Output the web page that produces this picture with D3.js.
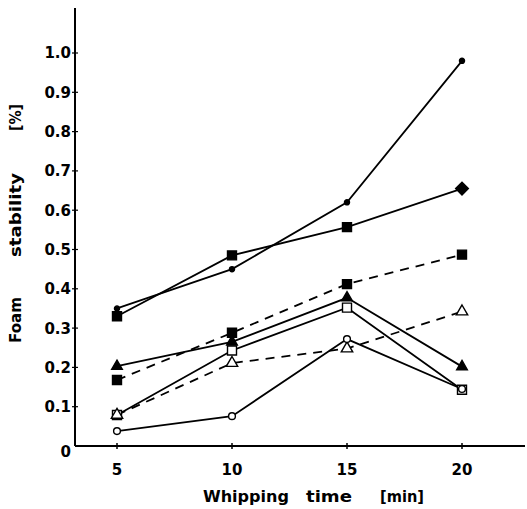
<!DOCTYPE html>
<html>
<head>
<meta charset="utf-8">
<script src="https://cdn.jsdelivr.net/npm/d3@7"></script>
<style>
  body { margin: 0; background: #fff; }
  text { font-family: "DejaVu Sans", "Liberation Sans", Arial, sans-serif; font-weight: bold; fill: #000; }
</style>
</head>
<body>
<svg id="chart" width="527" height="509"></svg>
<script>
// whipping time (min)
const times = [5, 10, 15, 20];

// foam stability series (%)
const filledCircle = [0.35, 0.45, 0.62, 0.98];
const filledSquare = [0.33, 0.485, 0.557, 0.655];
const filledSquareDash = [0.168, 0.288, 0.412, 0.487];
const filledTriangle = [0.203, 0.265, 0.377, 0.202];
const openSquare = [0.079, 0.243, 0.352, 0.143];
const openTriangleDash = [0.079, 0.211, 0.248, 0.342];
const openCircle = [0.038, 0.076, 0.272, 0.145];

const yTicks = [0.1, 0.2, 0.3, 0.4, 0.5, 0.6, 0.7, 0.8, 0.9, 1.0];

// title words, spread out as in the original figure
const xTitleWords = ['Whipping', 'time', '[min]'];
const yTitleWords = ['Foam', 'stability', '[%]'];

const series = [
    {values: filledCircle, shape: 'circle', filled: true, dash: null, size: 4.5},
    {values: filledSquare, shape: 'square', filled: true, dash: null, size: 9, last: 'diamond'},
    {values: filledSquareDash, shape: 'square', filled: true, dash: '9,7', size: 9},
    {values: filledTriangle, shape: 'triangle', filled: true, dash: null, size: 7},
    {values: openSquare, shape: 'square', filled: false, dash: null, size: 9},
    {values: openTriangleDash, shape: 'triangle', filled: false, dash: '9,7', size: 7.5},
    {values: openCircle, shape: 'circle', filled: false, dash: null, size: 6}
];

const svg = d3.select('#chart');

const x = d3.scaleLinear().domain([5, 20]).range([117, 462]);
const y = d3.scaleLinear().domain([0, 1.0]).range([446, 53]);

// axes lines
svg.append('line')
    .attr('x1', 75).attr('x2', 75)
    .attr('y1', 8).attr('y2', 446)
    .attr('stroke', '#000').attr('stroke-width', 2);
svg.append('line')
    .attr('x1', 75).attr('x2', 525)
    .attr('y1', 446).attr('y2', 446)
    .attr('stroke', '#000').attr('stroke-width', 2);

// y ticks
const yt = svg.append('g');
yt.selectAll('line')
    .data(yTicks)
    .enter().append('line')
    .attr('x1', 72).attr('x2', 78)
    .attr('y1', d => y(d)).attr('y2', d => y(d))
    .attr('stroke', '#000').attr('stroke-width', 1.2);
yt.selectAll('text')
    .data(yTicks)
    .enter().append('text')
    .attr('x', 71)
    .attr('y', d => y(d))
    .attr('dy', '0.36em')
    .attr('text-anchor', 'end')
    .attr('font-size', '15px')
    .text(d => d.toFixed(1));
svg.append('text')
    .attr('x', 71).attr('y', 452)
    .attr('dy', '0.36em')
    .attr('text-anchor', 'end')
    .attr('font-size', '15px')
    .text('0');

// x ticks
const xt = svg.append('g');
xt.selectAll('line')
    .data(times)
    .enter().append('line')
    .attr('x1', d => x(d)).attr('x2', d => x(d))
    .attr('y1', 443).attr('y2', 449)
    .attr('stroke', '#000').attr('stroke-width', 1.5);
xt.selectAll('text')
    .data(times)
    .enter().append('text')
    .attr('x', d => x(d))
    .attr('y', 475)
    .attr('text-anchor', 'middle')
    .attr('font-size', '15px')
    .text(d => d);

// axis titles
const xTitleX = [203, 306, 380];
const xTitleLen = [86, 46, 44];
svg.append('g').selectAll('text')
    .data(xTitleWords)
    .enter().append('text')
    .attr('x', (d, i) => xTitleX[i])
    .attr('y', 502)
    .attr('font-size', '15px')
    .attr('textLength', (d, i) => xTitleLen[i])
    .attr('lengthAdjust', 'spacingAndGlyphs')
    .text(d => d);

const yTitleY = [343, 257, 131];
const yTitleLen = [46, 84, 27];
svg.append('g').selectAll('text')
    .data(yTitleWords)
    .enter().append('text')
    .attr('transform', (d, i) => `translate(21, ${yTitleY[i]}) rotate(-90)`)
    .attr('font-size', '15px')
    .attr('textLength', (d, i) => yTitleLen[i])
    .attr('lengthAdjust', 'spacingAndGlyphs')
    .text(d => d);

// lines
const line = d3.line()
    .x((d, i) => x(times[i]))
    .y(d => y(d));

svg.append('g').selectAll('path')
    .data(series)
    .enter().append('path')
    .attr('d', d => line(d.values))
    .attr('fill', 'none')
    .attr('stroke', '#000')
    .attr('stroke-width', 1.8)
    .attr('stroke-dasharray', d => d.dash);

// markers
const symbolFor = {
    circle: d3.symbolCircle,
    square: d3.symbolSquare,
    triangle: d3.symbolTriangle
};

series.forEach(s => {
    svg.append('g').selectAll('path')
        .data(s.values)
        .enter().append('path')
        .attr('transform', (d, i) => {
            const diamond = i === s.values.length - 1 && s.last === 'diamond';
            return `translate(${x(times[i])},${y(d)})` + (diamond ? ' rotate(45)' : '');
        })
        .attr('d', d3.symbol().type(symbolFor[s.shape]).size(s.size * s.size)())
        .attr('fill', s.filled ? '#000' : '#fff')
        .attr('stroke', '#000')
        .attr('stroke-width', 1.4);
});
</script>
</body>
</html>
